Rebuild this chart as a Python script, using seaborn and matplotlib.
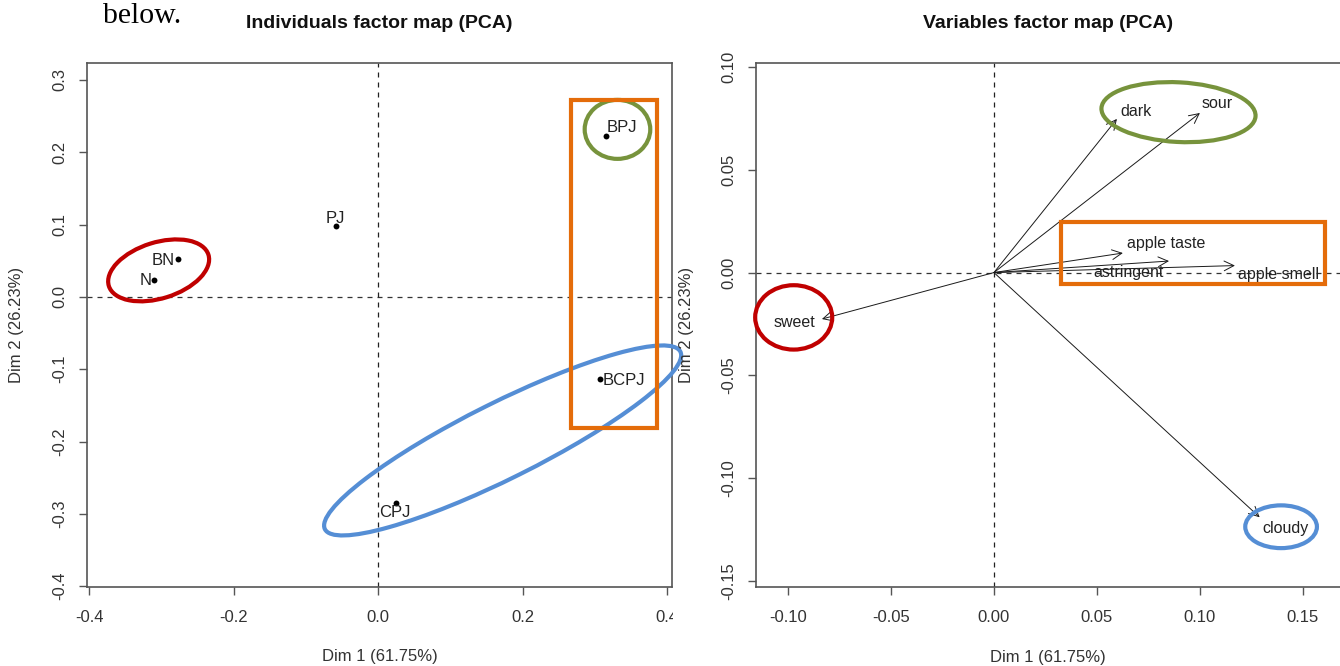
import matplotlib
matplotlib.use("Agg")
import matplotlib.pyplot as plt
import seaborn as sns
import pandas as pd
from matplotlib.patches import Ellipse, Rectangle

# ---------------- data ----------------
ind_names = ["BPJ", "PJ", "BN", "N", "BCPJ", "CPJ"]
ind_dim1 = [0.316, -0.058, -0.277, -0.310, 0.307, 0.025]
ind_dim2 = [0.223, 0.098, 0.053, 0.024, -0.113, -0.285]

var_names = ["dark", "sour", "apple taste", "astringent", "apple smell", "sweet", "cloudy"]
var_dim1 = [0.0597, 0.100, 0.0626, 0.085, 0.117, -0.0835, 0.129]
var_dim2 = [0.0747, 0.0776, 0.0095, 0.0056, 0.0034, -0.0226, -0.119]

ind_xticks = [-0.4, -0.2, 0.0, 0.2, 0.4]
ind_yticks = [-0.4, -0.3, -0.2, -0.1, 0.0, 0.1, 0.2, 0.3]
var_xticks = [-0.10, -0.05, 0.00, 0.05, 0.10, 0.15]
var_yticks = [-0.15, -0.10, -0.05, 0.00, 0.05, 0.10]

title_ind = "Individuals factor map (PCA)"
title_var = "Variables factor map (PCA)"
xlab = "Dim 1 (61.75%)"
ylab = "Dim 2 (26.23%)"
caption = "below."

# ------------- label placement (pixel offsets from point) -------------
ind_label_off = [(16, 8), (-1, 8), (-15, -2), (-9, -1), (24, -2), (-1, -10)]
var_label_off = [(19, 7), (17, 9), (43, 10), (-40, -11), (44, -9), (-27, -3), (26, -11)]

# ------------- highlight overlays -------------
RED, GREEN, BLUE, ORANGE = "#C00000", "#77933C", "#558ED5", "#E46C0A"
ind_ellipses = [  # (cx, cy, w, h, angle, color)
    (-0.3038, 0.0367, 0.1445, 0.0775, 17.4, RED),
    (0.3315, 0.2317, 0.0908, 0.0816, 0.0, GREEN),
    (0.1725, -0.1985, 0.550, 0.105, 26.5, BLUE),
]
ind_rects = [(0.2671, -0.1819, 0.3869, 0.2721, ORANGE)]  # x0, y0, x1, y1
var_ellipses = [
    (0.0896, 0.0780, 0.0749, 0.0290, -3.0, GREEN),
    (-0.0972, -0.0218, 0.0374, 0.0313, 0.0, RED),
    (0.1394, -0.1236, 0.0348, 0.0208, 0.0, BLUE),
]
var_rects = [(0.0325, -0.0055, 0.1607, 0.0246, ORANGE)]

# ---------------- style ----------------
sns.set_theme(style="ticks")
plt.rcParams["font.family"] = ["Liberation Sans", "DejaVu Sans"]

W, H = 1340, 666
PX = 72.0 / 100.0  # points per pixel
fig = plt.figure(figsize=(W / 100, H / 100), dpi=100, facecolor="white")
axL = fig.add_axes([87 / W, (H - 586.5) / H, 585 / W, 523.5 / H])
axR = fig.add_axes([756 / W, (H - 587) / H, 584 / W, 524 / H])
axL.set_zorder(0)
axR.set_zorder(1)

SPINE = "#555555"
TXT = "#222222"


def style_axes(ax, xt, yt, fmt):
    ax.set_xticks(xt)
    ax.set_yticks(yt)
    ax.set_xticklabels([fmt.format(v) for v in xt])
    ax.set_yticklabels([fmt.format(v) for v in yt])
    ax.tick_params(axis="both", direction="out", length=5.8, width=1.0,
                   color=SPINE, labelsize=12, labelcolor="#333333")
    ax.tick_params(axis="x", pad=11)
    ax.tick_params(axis="y", pad=8.5)
    for lab in ax.get_yticklabels():
        lab.set_rotation(90)
        lab.set_va("center")
    for s in ax.spines.values():
        s.set_color(SPINE)
        s.set_linewidth(1.2)
        s.set_visible(True)
    ax.set_xlabel("")
    ax.set_ylabel("")
    ax.axhline(0, ls=(0, (4, 4)), lw=0.9, color="#333333", zorder=1)
    ax.axvline(0, ls=(0, (4, 4)), lw=0.9, color="#222222", zorder=1)


def frame_text(ax, title):
    ax.annotate(title, xy=(0.5, 1), xycoords="axes fraction",
                xytext=(0, 39 * PX), textcoords="offset points",
                ha="center", va="center", fontsize=14, fontweight="bold",
                color="#111111", annotation_clip=False)
    ax.annotate(xlab, xy=(0.5, 0), xycoords="axes fraction",
                xytext=(0, -70.5 * PX), textcoords="offset points",
                ha="center", va="center", fontsize=12, color="#333333",
                annotation_clip=False)
    ax.annotate(ylab, xy=(0, 0.5), xycoords="axes fraction",
                xytext=(-70 * PX, 0), textcoords="offset points",
                ha="center", va="center", rotation=90, fontsize=12,
                color="#333333", annotation_clip=False)


# ---------------- left: individuals ----------------
df_ind = pd.DataFrame({"Dim 1": ind_dim1, "Dim 2": ind_dim2, "name": ind_names})
sns.scatterplot(data=df_ind, x="Dim 1", y="Dim 2", color="black", s=18,
                linewidth=0, ax=axL, zorder=3)
axL.set_xlim(-0.403, 0.407)
axL.set_ylim(-0.4005, 0.3235)
style_axes(axL, ind_xticks, ind_yticks, "{:.1f}")
frame_text(axL, title_ind)
for name, x, y, (dx, dy) in zip(ind_names, ind_dim1, ind_dim2, ind_label_off):
    axL.annotate(name, xy=(x, y), xytext=(dx * PX, dy * PX),
                 textcoords="offset points", ha="center", va="center",
                 fontsize=12, color=TXT, zorder=4)

for cx, cy, w, h, ang, col in ind_ellipses:
    axL.add_patch(Ellipse((cx, cy), w, h, angle=ang, fill=False, ec=col,
                          lw=3.0, clip_on=False, zorder=5))
for x0, y0, x1, y1, col in ind_rects:
    axL.add_patch(Rectangle((x0, y0), x1 - x0, y1 - y0, fill=False, ec=col,
                            lw=3.0, clip_on=False, zorder=5))

# ---------------- right: variables ----------------
axR.set_xlim(-0.1155, 0.168)
axR.set_ylim(-0.1529, 0.1019)
style_axes(axR, var_xticks, var_yticks, "{:.2f}")
axR.spines["right"].set_visible(False)
frame_text(axR, title_var)
for name, x, y, (dx, dy) in zip(var_names, var_dim1, var_dim2, var_label_off):
    axR.annotate("", xy=(x, y), xytext=(0, 0), xycoords="data",
                 arrowprops=dict(arrowstyle="->,head_length=0.7,head_width=0.35",
                                 lw=0.7, color="#1a1a1a", shrinkA=0, shrinkB=0,
                                 mutation_scale=10), zorder=3)
    axR.annotate(name, xy=(x, y), xytext=(dx * PX, dy * PX),
                 textcoords="offset points", ha="center", va="center",
                 fontsize=11.5, color=TXT, zorder=4)

for cx, cy, w, h, ang, col in var_ellipses:
    axR.add_patch(Ellipse((cx, cy), w, h, angle=ang, fill=False, ec=col,
                          lw=3.0, clip_on=False, zorder=5))
for x0, y0, x1, y1, col in var_rects:
    axR.add_patch(Rectangle((x0, y0), x1 - x0, y1 - y0, fill=False, ec=col,
                            lw=3.0, clip_on=False, zorder=5))

# the left picture is cut at its right edge (partly hidden "0.4")
fig.patches.append(Rectangle((673 / W, (H - 640) / H), 27 / W, 40 / H,
                             transform=fig.transFigure, facecolor="white",
                             edgecolor="none", zorder=0.5))

# stray document text above the charts
fig.text(103 / W, 1 - 23 / H, caption, family=["Liberation Serif", "DejaVu Serif"],
         fontsize=21.5, ha="left", va="baseline", color="black")

fig.savefig("out.png", dpi=100, facecolor="white")
